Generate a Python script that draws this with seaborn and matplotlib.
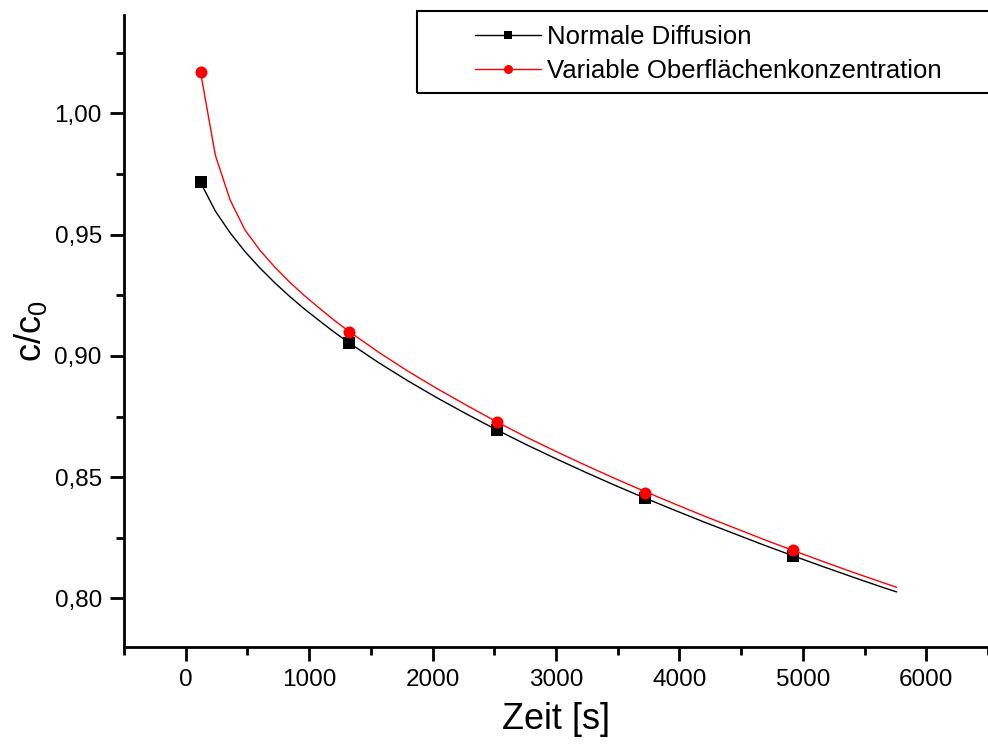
import matplotlib
matplotlib.use("Agg")
import matplotlib.pyplot as plt
import seaborn as sns
import pandas as pd
from matplotlib.lines import Line2D
from matplotlib.patches import Rectangle
from matplotlib.ticker import MultipleLocator, FuncFormatter

# measured points
t_points = [120, 1320, 2520, 3720, 4920]
normal_points = [0.9715, 0.9055, 0.8695, 0.8415, 0.8175]
variable_points = [1.0170, 0.9100, 0.8726, 0.8436, 0.8198]

# curves
t_curve = [120, 240, 360, 480, 600, 720, 840, 960, 1080, 1200, 1320,
           1560, 1800, 2040, 2280, 2520, 2760, 3000, 3240, 3480, 3720,
           3960, 4200, 4440, 4680, 4920, 5160, 5400, 5640, 5760]
normal_curve = [0.9715, 0.9597, 0.9507, 0.9430, 0.9363, 0.9302, 0.9246, 0.9194,
                0.9146, 0.9099, 0.9055, 0.8973, 0.8897, 0.8826, 0.8759, 0.8695,
                0.8634, 0.8576, 0.8520, 0.8466, 0.8414, 0.8364, 0.8315, 0.8268,
                0.8221, 0.8176, 0.8132, 0.8089, 0.8047, 0.8027]
variable_curve = [1.0170, 0.9827, 0.9642, 0.9519, 0.9436, 0.9367, 0.9305, 0.9249,
                  0.9198, 0.9148, 0.9102, 0.9016, 0.8937, 0.8864, 0.8795, 0.8728,
                  0.8665, 0.8606, 0.8549, 0.8494, 0.8441, 0.8390, 0.8340, 0.8292,
                  0.8244, 0.8198, 0.8153, 0.8109, 0.8067, 0.8046]

labels = ["Normale Diffusion", "Variable Oberflächenkonzentration"]
colors = ["black", "#ff0000"]
markers = ["s", "o"]

x_ticks = [0, 1000, 2000, 3000, 4000, 5000, 6000]
y_ticks = [0.80, 0.85, 0.90, 0.95, 1.00]

sns.set_style("white")
plt.rcParams["font.family"] = ["Liberation Sans", "DejaVu Sans"]
plt.rcParams["mathtext.default"] = "regular"
for k in ["text.color", "axes.labelcolor", "xtick.color", "ytick.color"]:
    plt.rcParams[k] = "black"

fig = plt.figure(figsize=(9.88, 7.47), dpi=100)
ax = fig.add_axes([124 / 988, 1 - 647 / 747, 864 / 988, 632 / 747])

curves = pd.DataFrame({
    "t": t_curve * 2,
    "c": normal_curve + variable_curve,
    "series": [labels[0]] * len(t_curve) + [labels[1]] * len(t_curve),
})
pts = pd.DataFrame({
    "t": t_points * 2,
    "c": normal_points + variable_points,
    "series": [labels[0]] * len(t_points) + [labels[1]] * len(t_points),
})
palette = dict(zip(labels, colors))

sns.lineplot(data=curves, x="t", y="c", hue="series", palette=palette,
             linewidth=1.0, legend=False, ax=ax, sort=False)
for lab, mk, ms in zip(labels, markers, [65, 75]):
    sub = pts[pts["series"] == lab]
    sns.scatterplot(data=sub, x="t", y="c", color=palette[lab], marker=mk,
                    s=ms, linewidth=0, legend=False, ax=ax, zorder=5)

ax.set_xlim(-500, 6500)
ax.set_ylim(0.78, 1.0405)
ax.set_xticks(x_ticks)
ax.set_yticks(y_ticks)
ax.xaxis.set_minor_locator(MultipleLocator(500))
ax.yaxis.set_minor_locator(MultipleLocator(0.025))
ax.yaxis.set_major_formatter(FuncFormatter(lambda v, p: f"{v:.2f}".replace(".", ",")))

for s in ["top", "right"]:
    ax.spines[s].set_visible(False)
for s in ["left", "bottom"]:
    ax.spines[s].set_linewidth(2.0)
    ax.spines[s].set_color("black")

ax.tick_params(which="major", direction="out", length=10, width=2, labelsize=17.5,
               pad=6, color="black", labelcolor="black", left=True, bottom=True)
ax.tick_params(which="minor", direction="out", length=6, width=2, color="black",
               left=True, bottom=True)

ax.set_xlabel("Zeit [s]", fontsize=26, labelpad=8, color="black")
ax.set_ylabel(r"c/c$_0$", fontsize=26, labelpad=4, color="black")

handles = [Line2D([0], [0], color=c, marker=m, markersize=ms, linewidth=1.0,
                  markeredgewidth=0)
           for c, m, ms in zip(colors, markers, [5.5, 6.5])]
leg = fig.legend(handles, labels, loc="upper left",
                 bbox_to_anchor=(475 / 988, 1 - 24.5 / 747), frameon=False,
                 fontsize=18.5, handlelength=2.55, handletextpad=0.27,
                 labelspacing=0.42, borderpad=0, borderaxespad=0)
for txt in leg.get_texts():
    txt.set_color("black")
fig.patches.append(Rectangle((417 / 988, 1 - 93 / 747), 600 / 988, 82 / 747,
                             transform=fig.transFigure, fill=False,
                             edgecolor="black", linewidth=1.5))

fig.savefig("out.png", dpi=100)
